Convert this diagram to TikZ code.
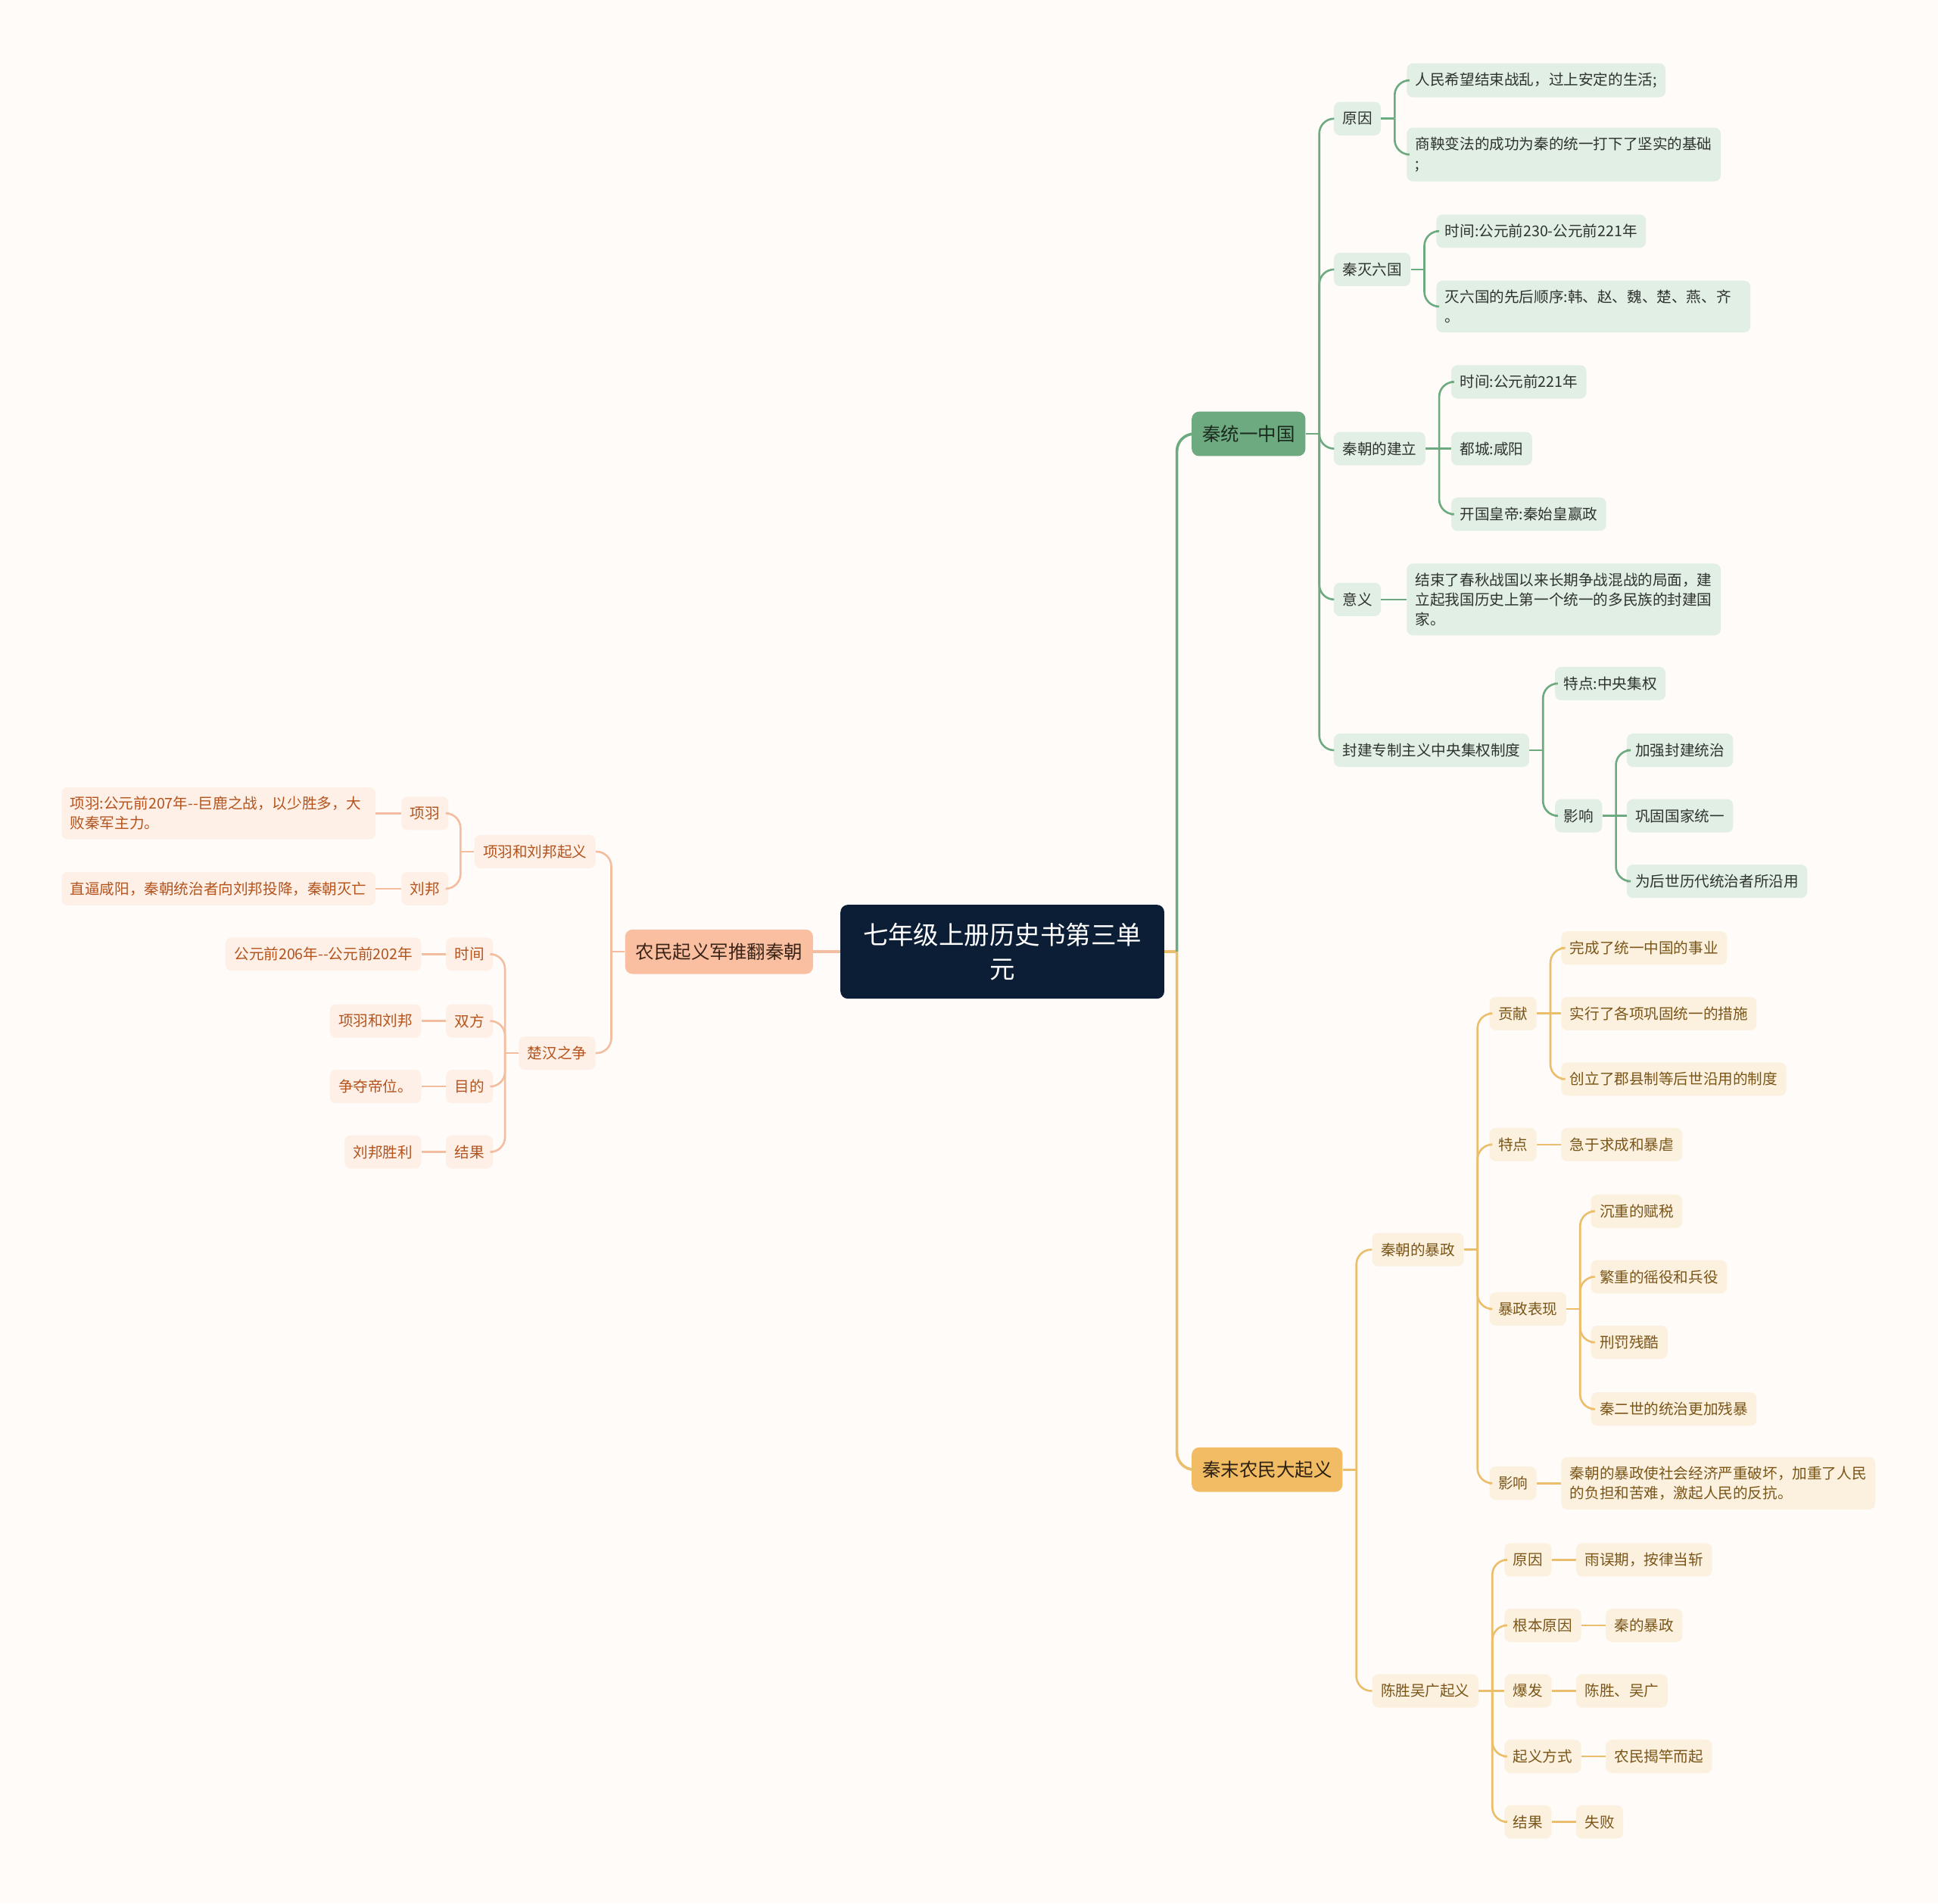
\documentclass[tikz,border=0pt]{standalone}
\usepackage{fontspec}
\newfontfamily\cjk{Noto Sans CJK SC}
\usetikzlibrary{calc}
\definecolor{bgc}{HTML}{FFFBF9}
\definecolor{rootfill}{HTML}{0C1D36}
\definecolor{gmainfill}{HTML}{6DAA7F}
\definecolor{gsubfill}{HTML}{E2EFE5}
\definecolor{gline}{HTML}{6DAA7F}
\definecolor{gtext}{HTML}{2E332F}
\definecolor{gmaintext}{HTML}{1C2B20}
\definecolor{ymainfill}{HTML}{F1BC63}
\definecolor{ysubfill}{HTML}{FCF1DF}
\definecolor{yline}{HTML}{EBBE6B}
\definecolor{ytext}{HTML}{7A5518}
\definecolor{ymaintext}{HTML}{2E2112}
\definecolor{omainfill}{HTML}{F9BFA0}
\definecolor{osubfill}{HTML}{FEF0E7}
\definecolor{oline}{HTML}{F3BE9F}
\definecolor{otext}{HTML}{B4531C}
\definecolor{omaintext}{HTML}{3A2418}
\tikzset{
  basebox/.style={rounded corners=5pt, inner xsep=7pt, inner ysep=7.5pt,
    font=\cjk\fontsize{12}{16}\selectfont, align=left, minimum height=27pt},
  gsub/.style={basebox, fill=gsubfill, text=gtext, anchor=west},
  ysub/.style={basebox, fill=ysubfill, text=ytext, anchor=west},
  osub/.style={basebox, fill=osubfill, text=otext, anchor=east},
  wide/.style={text width=240pt},
  mainbox/.style={rounded corners=6pt, inner xsep=8.5pt, inner ysep=6pt,
    font=\cjk\fontsize{15}{20}\selectfont, minimum height=36pt},
  gmain/.style={mainbox, fill=gmainfill, text=gmaintext, anchor=west},
  ymain/.style={mainbox, fill=ymainfill, text=ymaintext, anchor=west},
  omain/.style={mainbox, fill=omainfill, text=omaintext, anchor=east},
  rootbox/.style={rounded corners=6pt, fill=rootfill, text=white,
    font=\cjk\fontsize{20.5}{27}\selectfont, align=center,
    inner xsep=17pt, inner ysep=8pt, minimum height=76pt, minimum width=262pt},
  gl/.style={draw=gline, line width=1.6pt},
  yl/.style={draw=yline, line width=1.6pt},
  ol/.style={draw=oline, line width=1.6pt},
  glm/.style={draw=gline, line width=2.2pt},
  ylm/.style={draw=yline, line width=2.2pt},
  olm/.style={draw=oline, line width=2.2pt},
}
\newcommand\linkR[3]{\draw[#1] (#2.east) -- ++(11,0);
  \draw[#1,rounded corners=12pt] ($(#2.east)+(11,0)$) |- (#3.west);}
\newcommand\linkRS[3]{\draw[#1] (#2.east) -- (#3.west);}
\newcommand\linkL[3]{\draw[#1] (#2.west) -- ++(-11,0);
  \draw[#1,rounded corners=12pt] ($(#2.west)+(-11,0)$) |- (#3.east);}
\newcommand\linkLS[3]{\draw[#1] (#2.west) -- (#3.east);}
\begin{document}
\begin{tikzpicture}[x=1pt,y=-1pt]
\fill[bgc] (0,0) rectangle (1568,1540);
\useasboundingbox (0,0) rectangle (1568,1540);

% root
\node[rootbox] (root) at (811,770) {七年级上册历史书第三单\\元};

% green branch
\node[gmain] (g) at (964,351) {秦统一中国};
\node[gsub] (g1) at (1079,96) {原因};
\node[gsub] (g11) at (1138,65) {人民希望结束战乱，过上安定的生活;};
\node[gsub,wide] (g12) at (1138,125) {商鞅变法的成功为秦的统一打下了坚实的基础\\;};
\node[gsub] (g2) at (1079,218) {秦灭六国};
\node[gsub] (g21) at (1162,187) {时间:公元前230-公元前221年};
\node[gsub,wide] (g22) at (1162,248) {灭六国的先后顺序:韩、赵、魏、楚、燕、齐\\。};
\node[gsub] (g3) at (1079,363) {秦朝的建立};
\node[gsub] (g31) at (1174,309) {时间:公元前221年};
\node[gsub] (g32) at (1174,363) {都城:咸阳};
\node[gsub] (g33) at (1174,416) {开国皇帝:秦始皇嬴政};
\node[gsub] (g4) at (1079,485) {意义};
\node[gsub,wide] (g41) at (1138,485) {结束了春秋战国以来长期争战混战的局面，建\\立起我国历史上第一个统一的多民族的封建国\\家。};
\node[gsub] (g5) at (1079,607) {封建专制主义中央集权制度};
\node[gsub] (g51) at (1258,553) {特点:中央集权};
\node[gsub] (g52) at (1258,660) {影响};
\node[gsub] (g521) at (1316,607) {加强封建统治};
\node[gsub] (g522) at (1316,660) {巩固国家统一};
\node[gsub] (g523) at (1316,713) {为后世历代统治者所沿用};

% yellow branch
\node[ymain] (y) at (964,1189) {秦末农民大起义};
\node[ysub] (y1) at (1110,1011) {秦朝的暴政};
\node[ysub] (y11) at (1205,820) {贡献};
\node[ysub] (y111) at (1263,767) {完成了统一中国的事业};
\node[ysub] (y112) at (1263,820) {实行了各项巩固统一的措施};
\node[ysub] (y113) at (1263,873) {创立了郡县制等后世沿用的制度};
\node[ysub] (y12) at (1205,926) {特点};
\node[ysub] (y121) at (1263,926) {急于求成和暴虐};
\node[ysub] (y13) at (1205,1059) {暴政表现};
\node[ysub] (y131) at (1287,980) {沉重的赋税};
\node[ysub] (y132) at (1287,1033) {繁重的徭役和兵役};
\node[ysub] (y133) at (1287,1086) {刑罚残酷};
\node[ysub] (y134) at (1287,1140) {秦二世的统治更加残暴};
\node[ysub] (y14) at (1205,1200) {影响};
\node[ysub,wide] (y141) at (1263,1200) {秦朝的暴政使社会经济严重破坏，加重了人民\\的负担和苦难，激起人民的反抗。};
\node[ysub] (y2) at (1110,1368) {陈胜吴广起义};
\node[ysub] (y21) at (1217,1262) {原因};
\node[ysub] (y211) at (1275,1262) {雨误期，按律当斩};
\node[ysub] (y22) at (1217,1315) {根本原因};
\node[ysub] (y221) at (1299,1315) {秦的暴政};
\node[ysub] (y23) at (1217,1368) {爆发};
\node[ysub] (y231) at (1275,1368) {陈胜、吴广};
\node[ysub] (y24) at (1217,1421) {起义方式};
\node[ysub] (y241) at (1299,1421) {农民揭竿而起};
\node[ysub] (y25) at (1217,1474) {结果};
\node[ysub] (y251) at (1275,1474) {失败};

% orange branch
\node[omain] (o) at (658,770) {农民起义军推翻秦朝};
\node[osub] (o1) at (482,689) {项羽和刘邦起义};
\node[osub] (o11) at (363,658) {项羽};
\node[osub,wide] (o111) at (304,658) {项羽:公元前207年--巨鹿之战，以少胜多，大\\败秦军主力。};
\node[osub] (o12) at (363,719) {刘邦};
\node[osub] (o121) at (304,719) {直逼咸阳，秦朝统治者向刘邦投降，秦朝灭亡};
\node[osub] (o2) at (482,852) {楚汉之争};
\node[osub] (o21) at (399,772) {时间};
\node[osub] (o211) at (341,772) {公元前206年--公元前202年};
\node[osub] (o22) at (399,826) {双方};
\node[osub] (o221) at (341,826) {项羽和刘邦};
\node[osub] (o23) at (399,879) {目的};
\node[osub] (o231) at (341,879) {争夺帝位。};
\node[osub] (o24) at (399,932) {结果};
\node[osub] (o241) at (341,932) {刘邦胜利};

% root connectors
\draw[ylm] (root.east) -- ++(10,0);
\draw[glm,rounded corners=14pt] ($(root.east)+(10,0)$) |- (g.west);
\draw[ylm,rounded corners=14pt] ($(root.east)+(10,0)$) |- (y.west);
\linkLS{olm}{root}{o}

% green connectors
\linkR{gl}{g}{g1}
\linkR{gl}{g}{g2}
\linkR{gl}{g}{g3}
\linkR{gl}{g}{g4}
\linkR{gl}{g}{g5}
\linkR{gl}{g1}{g11}
\linkR{gl}{g1}{g12}
\linkR{gl}{g2}{g21}
\linkR{gl}{g2}{g22}
\linkR{gl}{g3}{g31}
\linkRS{gl}{g3}{g32}
\linkR{gl}{g3}{g33}
\linkRS{gl}{g4}{g41}
\linkR{gl}{g5}{g51}
\linkR{gl}{g5}{g52}
\linkR{gl}{g52}{g521}
\linkRS{gl}{g52}{g522}
\linkR{gl}{g52}{g523}

% yellow connectors
\linkR{yl}{y}{y1}
\linkR{yl}{y}{y2}
\linkR{yl}{y1}{y11}
\linkR{yl}{y1}{y12}
\linkR{yl}{y1}{y13}
\linkR{yl}{y1}{y14}
\linkR{yl}{y11}{y111}
\linkRS{yl}{y11}{y112}
\linkR{yl}{y11}{y113}
\linkRS{yl}{y12}{y121}
\linkR{yl}{y13}{y131}
\linkR{yl}{y13}{y132}
\linkR{yl}{y13}{y133}
\linkR{yl}{y13}{y134}
\linkRS{yl}{y14}{y141}
\linkR{yl}{y2}{y21}
\linkR{yl}{y2}{y22}
\linkRS{yl}{y2}{y23}
\linkR{yl}{y2}{y24}
\linkR{yl}{y2}{y25}
\linkRS{yl}{y21}{y211}
\linkRS{yl}{y22}{y221}
\linkRS{yl}{y23}{y231}
\linkRS{yl}{y24}{y241}
\linkRS{yl}{y25}{y251}

% orange connectors
\linkL{ol}{o}{o1}
\linkL{ol}{o}{o2}
\linkL{ol}{o1}{o11}
\linkL{ol}{o1}{o12}
\linkLS{ol}{o11}{o111}
\linkLS{ol}{o12}{o121}
\linkL{ol}{o2}{o21}
\linkL{ol}{o2}{o22}
\linkL{ol}{o2}{o23}
\linkL{ol}{o2}{o24}
\linkLS{ol}{o21}{o211}
\linkLS{ol}{o22}{o221}
\linkLS{ol}{o23}{o231}
\linkLS{ol}{o24}{o241}
\end{tikzpicture}
\end{document}
